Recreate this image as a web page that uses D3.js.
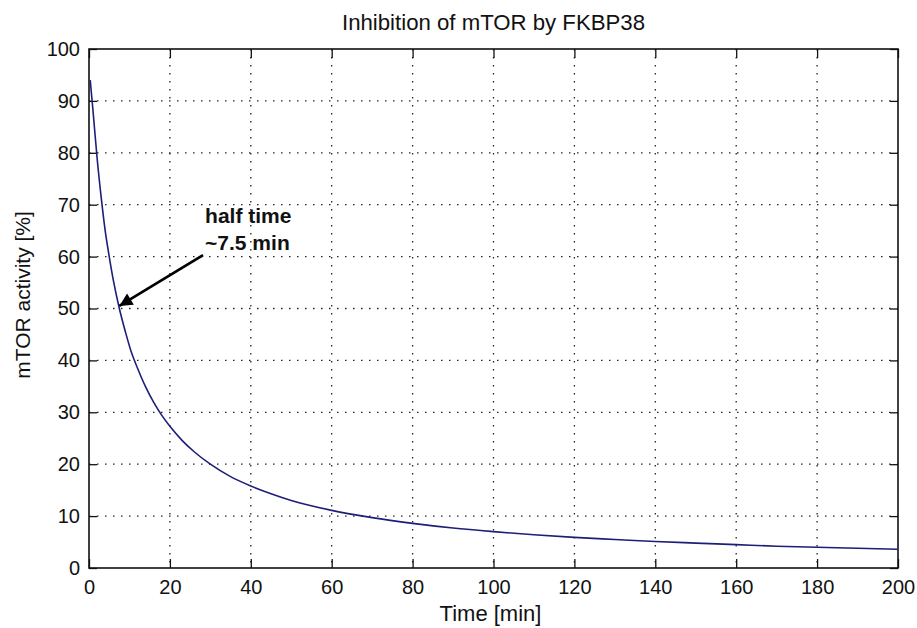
<!DOCTYPE html>
<html>
<head>
<meta charset="utf-8">
<script src="https://cdn.jsdelivr.net/npm/d3@7"></script>
<style>
  body { margin: 0; background: #fff; }
  text { font-family: "Liberation Sans", Arial, Helvetica, sans-serif; fill: #111; }
</style>
</head>
<body>
<div id="chart"></div>
<script>
// values
const timeMin = [0.3, 1, 2, 3, 4, 5, 6, 7.5, 9, 10.5, 12, 14, 16, 18, 20, 23, 26, 30, 35, 40, 45, 50,
  60, 70, 80, 90, 100, 110, 120, 130, 140, 150, 160, 170, 180, 190, 200];
const activity = [94, 88, 79, 71.5, 65, 60, 55.5, 50, 45.5, 41.5, 38.5, 34.9, 31.9, 29.4, 27.3, 24.6, 22.4, 20, 17.6, 15.8, 14.3, 13.0,
  11.1, 9.7, 8.6, 7.7, 7.0, 6.4, 5.9, 5.5, 5.1, 4.8, 4.5, 4.2, 4.0, 3.8, 3.6];
const xTicks = [0, 20, 40, 60, 80, 100, 120, 140, 160, 180, 200];
const yTicks = [0, 10, 20, 30, 40, 50, 60, 70, 80, 90, 100];
const noteLines = ['half time', '~7.5 min'];
const noteAt = [28.7, 66.5];     // [time, activity] of first text line
const arrowFrom = [28.2, 60.3];
const arrowTo = [7.5, 50.5];

const margin = { top: 49, right: 19, bottom: 60, left: 89 },
  width = 917 - margin.left - margin.right,
  height = 628 - margin.top - margin.bottom;

const data = timeMin.map((t, i) => ({ t: t, v: activity[i] }));

const x = d3.scaleLinear().domain([0, 200]).range([0, width]);
const y = d3.scaleLinear().domain([0, 100]).range([height, 0]);

const svg = d3.select('#chart').append('svg')
  .attr('width', 917)
  .attr('height', 628);
const g = svg.append('g')
  .attr('transform', 'translate(' + margin.left + ',' + margin.top + ')');

// grid (dotted)
g.append('g').selectAll('line.gx')
  .data(xTicks.slice(1, -1))
  .enter().append('line')
  .attr('x1', d => x(d)).attr('x2', d => x(d))
  .attr('y1', 0).attr('y2', height)
  .attr('stroke', '#222').attr('stroke-width', 1.3)
  .attr('stroke-dasharray', '1.5,6.5');
g.append('g').selectAll('line.gy')
  .data(yTicks.slice(1, -1))
  .enter().append('line')
  .attr('x1', 0).attr('x2', width)
  .attr('y1', d => y(d)).attr('y2', d => y(d))
  .attr('stroke', '#222').attr('stroke-width', 1.3)
  .attr('stroke-dasharray', '1.5,6.5');

// axes, ticks pointing inside
const axisFont = g => g.selectAll('text')
  .style('font-size', '20px')
  .style('font-family', '"Liberation Sans", Arial, sans-serif')
  .attr('fill', '#111');

g.append('g')
  .attr('transform', 'translate(0,' + height + ')')
  .call(d3.axisBottom(x).tickValues(xTicks).tickSize(-9).tickSizeOuter(0).tickPadding(12))
  .call(axisFont)
  .call(a => a.select('.domain').remove());
g.append('g')
  .call(d3.axisLeft(y).tickValues(yTicks).tickSize(-8).tickSizeOuter(0).tickPadding(9))
  .call(axisFont)
  .call(a => a.select('.domain').remove());
g.append('g')
  .call(d3.axisTop(x).tickValues(xTicks).tickSize(-9).tickSizeOuter(0).tickFormat(''))
  .call(a => a.select('.domain').remove());
g.append('g')
  .attr('transform', 'translate(' + width + ',0)')
  .call(d3.axisRight(y).tickValues(yTicks).tickSize(-8).tickSizeOuter(0).tickFormat(''))
  .call(a => a.select('.domain').remove());
g.selectAll('.tick line').attr('stroke', '#111').attr('stroke-width', 1.3);

// frame
g.append('rect')
  .attr('width', width).attr('height', height)
  .attr('fill', 'none').attr('stroke', '#111').attr('stroke-width', 1.6);

// curve
const linea = d3.line()
  .x(d => x(d.t))
  .y(d => y(d.v))
  .curve(d3.curveMonotoneX);
g.append('path')
  .attr('d', linea(data))
  .attr('fill', 'none')
  .attr('stroke', '#1e1e78')
  .attr('stroke-width', 1.6);

// annotation
svg.append('defs').append('marker')
  .attr('id', 'head')
  .attr('viewBox', '0 0 10 10')
  .attr('refX', 10).attr('refY', 5)
  .attr('markerWidth', 6).attr('markerHeight', 5)
  .attr('markerUnits', 'strokeWidth')
  .attr('orient', 'auto')
  .append('path')
  .attr('d', 'M0,0 L10,5 L0,10 z')
  .attr('fill', '#000');
g.append('line')
  .attr('x1', x(arrowFrom[0])).attr('y1', y(arrowFrom[1]))
  .attr('x2', x(arrowTo[0])).attr('y2', y(arrowTo[1]))
  .attr('stroke', '#000').attr('stroke-width', 2.6)
  .attr('marker-end', 'url(#head)');
g.append('text')
  .attr('x', x(noteAt[0])).attr('y', y(noteAt[1]))
  .style('font-size', '21px').style('font-weight', 'bold')
  .selectAll('tspan')
  .data(noteLines)
  .enter().append('tspan')
  .attr('x', x(noteAt[0]))
  .attr('dy', (d, i) => i === 0 ? 0 : 27)
  .text(d => d);

// titles
svg.append('text')
  .attr('x', margin.left + width / 2).attr('y', 30)
  .attr('text-anchor', 'middle')
  .attr('textLength', 303).attr('lengthAdjust', 'spacingAndGlyphs')
  .style('font-size', '22px')
  .text('Inhibition of mTOR by FKBP38');
svg.append('text')
  .attr('x', margin.left + width / 2 - 3).attr('y', 621)
  .attr('text-anchor', 'middle')
  .style('font-size', '22px')
  .text('Time [min]');
svg.append('text')
  .attr('transform', 'translate(30,295) rotate(-90)')
  .attr('text-anchor', 'middle')
  .style('font-size', '21px')
  .text('mTOR activity [%]');
</script>
</body>
</html>
